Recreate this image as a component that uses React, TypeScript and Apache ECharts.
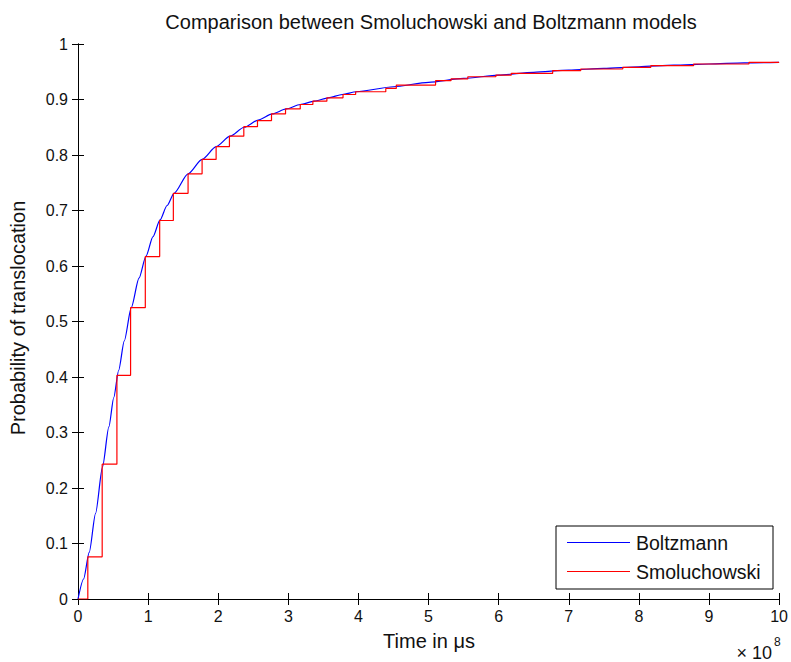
import React, { useEffect, useRef } from "react";
import * as echarts from "echarts";

// Time axis values in units of 1e8 (shown as "x 10^8")
const boltzmannTime = [0, 0.08, 0.16, 0.25, 0.35, 0.44, 0.51, 0.58, 0.66, 0.76, 0.87, 0.97, 1.07, 1.17, 1.27, 1.37, 1.57, 1.77, 1.97, 2.17, 2.37, 2.57, 2.77, 2.97, 3.17, 3.37, 3.57, 3.77, 3.97, 4.5, 5, 5.5, 6, 6.5, 7, 7.5, 8, 8.5, 9, 9.5, 10];
const boltzmannProb = [0, 0.036, 0.084, 0.154, 0.238, 0.31, 0.363, 0.412, 0.465, 0.525, 0.578, 0.618, 0.653, 0.683, 0.709, 0.731, 0.766, 0.792, 0.815, 0.834, 0.85, 0.863, 0.874, 0.883, 0.891, 0.897, 0.903, 0.909, 0.914, 0.923, 0.931, 0.938, 0.944, 0.949, 0.953, 0.956, 0.959, 0.962, 0.964, 0.966, 0.967];

const smoluchowskiTime = [0, 0.14, 0.345, 0.555, 0.75, 0.96, 1.165, 1.36, 1.57, 1.77, 1.97, 2.16, 2.365, 2.56, 2.76, 2.96, 3.17, 3.35, 3.55, 3.78, 3.96, 4.39, 4.54, 5.1, 5.32, 5.56, 5.96, 6.18, 6.77, 7.17, 7.77, 8.17, 8.78, 9.57, 10];
const smoluchowskiProb = [0, 0.076, 0.243, 0.403, 0.525, 0.617, 0.682, 0.731, 0.766, 0.792, 0.815, 0.834, 0.851, 0.862, 0.874, 0.883, 0.891, 0.897, 0.903, 0.909, 0.914, 0.92, 0.926, 0.934, 0.937, 0.941, 0.944, 0.947, 0.952, 0.955, 0.958, 0.961, 0.964, 0.967, 0.967];

const seriesNames = ["Boltzmann", "Smoluchowski"];
const seriesColors = ["#0000ff", "#ff0000"];
const chartTitle = "Comparison between Smoluchowski and Boltzmann models";
const xAxisTitle = "Time in \u03bcs";
const yAxisTitle = "Probability of translocation";
const xExponentBase = "\u00d7 10";
const xExponent = "8";

const FONT = "'Liberation Sans', Arial, Helvetica, sans-serif";
const TEXT_SIZE = 20;
const LEGEND_SIZE = 19.5;
const TICK_SIZE = 16;

export default function App() {
  const ref = useRef<HTMLDivElement>(null);
  useEffect(() => {
    if (!ref.current) return;
    const chart = echarts.init(ref.current, undefined, { renderer: "svg" });
    const blueData = boltzmannTime.map((t, i) => [t, boltzmannProb[i]]);
    const redData = smoluchowskiTime.map((t, i) => [t, smoluchowskiProb[i]]);
    const axisLine = { show: true, lineStyle: { color: "#000", width: 1 } };
    const axisTick = { show: true, inside: true, length: 6, lineStyle: { color: "#000", width: 1 } };
    const labelStyle = { color: "#111", fontSize: TICK_SIZE, fontFamily: FONT };
    chart.setOption({
      animation: false,
      backgroundColor: "#fff",
      grid: { left: 78, top: 44, right: 11, bottom: 63, containLabel: false },
      xAxis: [
        {
          type: "value", min: 0, max: 10, interval: 1, position: "bottom",
          axisLine, axisTick, splitLine: { show: false },
          axisLabel: { ...labelStyle, margin: 9 },
        },
        {
          type: "value", min: 0, max: 10, interval: 1, position: "top",
          axisLine, axisTick, splitLine: { show: false }, axisLabel: { show: false },
        },
      ],
      yAxis: [
        {
          type: "value", min: 0, max: 1, interval: 0.1, position: "left",
          axisLine, axisTick, splitLine: { show: false },
          axisLabel: { ...labelStyle, margin: 10 },
        },
        {
          type: "value", min: 0, max: 1, interval: 0.1, position: "right",
          axisLine, axisTick, splitLine: { show: false }, axisLabel: { show: false },
        },
      ],
      series: [
        {
          name: seriesNames[0], type: "line", data: blueData, showSymbol: false,
          smooth: 0.25, smoothMonotone: "x",
          lineStyle: { color: seriesColors[0], width: 1.2 }, itemStyle: { color: seriesColors[0] },
        },
        {
          name: seriesNames[1], type: "line", data: redData, step: "end", showSymbol: false,
          lineStyle: { color: seriesColors[1], width: 1.2 }, itemStyle: { color: seriesColors[1] },
        },
      ],
      graphic: [
        {
          type: "text", x: 431, y: 22,
          style: { text: chartTitle, fontSize: TEXT_SIZE, fontFamily: FONT, fill: "#111", align: "center", verticalAlign: "middle" },
        },
        {
          type: "text", x: 429, y: 641,
          style: { text: xAxisTitle, fontSize: TEXT_SIZE, fontFamily: FONT, fill: "#111", align: "center", verticalAlign: "middle" },
        },
        {
          type: "text", x: 18, y: 318, rotation: Math.PI / 2,
          style: { text: yAxisTitle, fontSize: TEXT_SIZE, fontFamily: FONT, fill: "#111", align: "center", verticalAlign: "middle" },
        },
        {
          type: "text", x: 772, y: 653,
          style: { text: xExponentBase, fontSize: 18, fontFamily: FONT, fill: "#111", align: "right", verticalAlign: "middle" },
        },
        {
          type: "text", x: 774, y: 642,
          style: { text: xExponent, fontSize: 12, fontFamily: FONT, fill: "#111", align: "left", verticalAlign: "middle" },
        },
        {
          type: "rect", shape: { x: 556, y: 526, width: 217, height: 63 },
          style: { fill: "#fff", stroke: "#000", lineWidth: 1 }, z: 10,
        },
        {
          type: "line", shape: { x1: 567, y1: 542.5, x2: 630, y2: 542.5 },
          style: { stroke: seriesColors[0], lineWidth: 1.2 }, z: 11,
        },
        {
          type: "line", shape: { x1: 567, y1: 571.5, x2: 630, y2: 571.5 },
          style: { stroke: seriesColors[1], lineWidth: 1.2 }, z: 11,
        },
        {
          type: "text", x: 636, y: 543, z: 11,
          style: { text: seriesNames[0], fontSize: LEGEND_SIZE, fontFamily: FONT, fill: "#111", verticalAlign: "middle" },
        },
        {
          type: "text", x: 636, y: 572, z: 11,
          style: { text: seriesNames[1], fontSize: LEGEND_SIZE, fontFamily: FONT, fill: "#111", verticalAlign: "middle" },
        },
      ],
    });
    return () => chart.dispose();
  }, []);
  return (
    <div
      ref={ref}
      style={{ position: "fixed", left: 0, top: 0, width: 791, height: 662, background: "#fff" }}
    />
  );
}
